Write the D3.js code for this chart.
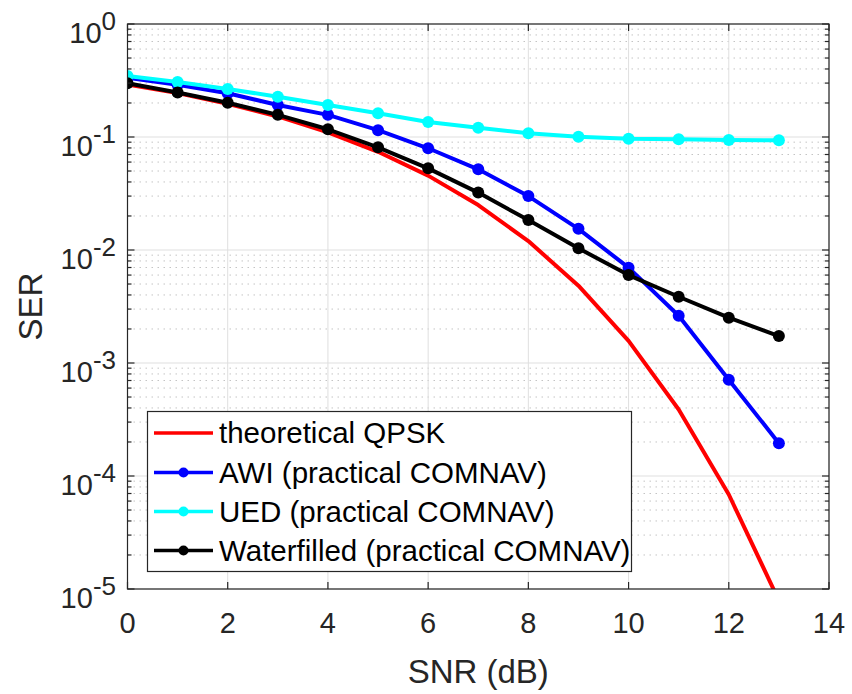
<!DOCTYPE html>
<html>
<head>
<meta charset="utf-8">
<script src="https://cdn.jsdelivr.net/npm/d3@7"></script>
<style>
  html, body { margin: 0; padding: 0; background: #fff; }
  svg { display: block; }
  text { font-family: "Liberation Sans", Arial, Helvetica, sans-serif; fill: #262626; }
</style>
</head>
<body>
<svg id="chart" width="852" height="694"></svg>
<script>
// SNR axis (dB)
const snr = [0, 1, 2, 3, 4, 5, 6, 7, 8, 9, 10, 11, 12, 13];

// Symbol error rate per scheme
const serTheory = [0.292, 0.245, 0.197, 0.152, 0.110, 0.0740, 0.0455, 0.0250, 0.0120, 0.00483, 0.00157, 0.000388, 0.0000686, 0.0000079];
const serAWI = [0.335, 0.290, 0.244, 0.192, 0.157, 0.115, 0.0795, 0.0518, 0.0300, 0.0154, 0.00698, 0.00262, 0.00071, 0.000195];
const serUED = [0.346, 0.307, 0.266, 0.227, 0.192, 0.162, 0.136, 0.121, 0.108, 0.1006, 0.0965, 0.0953, 0.0940, 0.0935];
const serWater = [0.299, 0.248, 0.201, 0.157, 0.117, 0.081, 0.0528, 0.0322, 0.0184, 0.01035, 0.0060, 0.00386, 0.00252, 0.00173];

const seriesNames = ["theoretical QPSK", "AWI (practical COMNAV)", "UED (practical COMNAV)", "Waterfilled (practical COMNAV)"];
const seriesColors = ["#ff0000", "#0000ff", "#00ffff", "#000000"];
const seriesMarkers = [false, true, true, true];

const xTicks = [0, 2, 4, 6, 8, 10, 12, 14];
const yExponents = [0, -1, -2, -3, -4, -5];

const svg = d3.select("#chart");
const pLeft = 127.5, pRight = 829, pTop = 24, pBottom = 589;
const axisColor = "#262626";

const x = d3.scaleLinear().domain([0, 14]).range([pLeft, pRight]);
const y = d3.scaleLog().domain([1e-5, 1]).range([pBottom, pTop]);

const allSeries = [serTheory, serAWI, serUED, serWater].map((vals, i) => ({
  name: seriesNames[i], color: seriesColors[i], marker: seriesMarkers[i],
  points: snr.map((s, j) => ({ s, v: vals[j] }))
}));

// plot background
svg.append("rect").attr("x", pLeft).attr("y", pTop).attr("width", pRight - pLeft).attr("height", pBottom - pTop).attr("fill", "#fff");

// minor horizontal grid (dotted), 2..9 within each decade
const minorVals = [];
for (let e = -5; e < 0; e++) for (let k = 2; k <= 9; k++) minorVals.push(k * Math.pow(10, e));
const grid = svg.append("g");
grid.selectAll("line.minor").data(minorVals).join("line")
  .attr("x1", pLeft).attr("x2", pRight)
  .attr("y1", d => y(d)).attr("y2", d => y(d))
  .attr("stroke", "#c4c4c4").attr("stroke-width", 1).attr("stroke-dasharray", "1.5,4.5");
// major grid
grid.selectAll("line.mx").data(xTicks).join("line")
  .attr("x1", d => x(d)).attr("x2", d => x(d)).attr("y1", pTop).attr("y2", pBottom)
  .attr("stroke", "#dfdfdf").attr("stroke-width", 1);
grid.selectAll("line.my").data(yExponents.map(e => Math.pow(10, e))).join("line")
  .attr("x1", pLeft).attr("x2", pRight).attr("y1", d => y(d)).attr("y2", d => y(d))
  .attr("stroke", "#dfdfdf").attr("stroke-width", 1);

// clip for data
svg.append("clipPath").attr("id", "plotclip").append("rect")
  .attr("x", pLeft).attr("y", pTop).attr("width", pRight - pLeft).attr("height", pBottom - pTop);

const line = d3.line().x(d => x(d.s)).y(d => y(d.v));
const dataG = svg.append("g").attr("clip-path", "url(#plotclip)");
allSeries.forEach(sr => {
  dataG.append("path").datum(sr.points).attr("d", line)
    .attr("fill", "none").attr("stroke", sr.color).attr("stroke-width", 4)
    .attr("stroke-linejoin", "round");
  if (sr.marker) {
    dataG.selectAll(null).data(sr.points).join("circle")
      .attr("cx", d => x(d.s)).attr("cy", d => y(d.v)).attr("r", 6)
      .attr("fill", sr.color);
  }
});

// axes frame with inward ticks
const axG = svg.append("g");
axG.append("rect").attr("x", pLeft).attr("y", pTop).attr("width", pRight - pLeft).attr("height", pBottom - pTop)
  .attr("fill", "none").attr("stroke", axisColor).attr("stroke-width", 1.2);
xTicks.forEach(t => {
  axG.append("line").attr("x1", x(t)).attr("x2", x(t)).attr("y1", pBottom).attr("y2", pBottom - 7).attr("stroke", axisColor).attr("stroke-width", 1.2);
  axG.append("line").attr("x1", x(t)).attr("x2", x(t)).attr("y1", pTop).attr("y2", pTop + 7).attr("stroke", axisColor).attr("stroke-width", 1.2);
});
yExponents.forEach(e => {
  const yy = y(Math.pow(10, e));
  axG.append("line").attr("x1", pLeft).attr("x2", pLeft + 7).attr("y1", yy).attr("y2", yy).attr("stroke", axisColor).attr("stroke-width", 1.2);
  axG.append("line").attr("x1", pRight).attr("x2", pRight - 7).attr("y1", yy).attr("y2", yy).attr("stroke", axisColor).attr("stroke-width", 1.2);
});
minorVals.forEach(v => {
  const yy = y(v);
  axG.append("line").attr("x1", pLeft).attr("x2", pLeft + 4).attr("y1", yy).attr("y2", yy).attr("stroke", axisColor).attr("stroke-width", 1.2);
  axG.append("line").attr("x1", pRight).attr("x2", pRight - 4).attr("y1", yy).attr("y2", yy).attr("stroke", axisColor).attr("stroke-width", 1.2);
});

// tick labels
svg.selectAll("text.xt").data(xTicks).join("text")
  .attr("x", d => x(d)).attr("y", pBottom + 44)
  .attr("text-anchor", "middle").attr("font-size", 29).text(d => d);
yExponents.forEach(e => {
  const t = svg.append("text").attr("x", 116).attr("y", y(Math.pow(10, e)) + 19)
    .attr("text-anchor", "end").attr("font-size", 29);
  t.append("tspan").text("10");
  t.append("tspan").attr("dy", -13).attr("font-size", 26).text(e === 0 ? "0" : "-" + Math.abs(e));
});

// axis labels
svg.append("text").attr("x", (pLeft + pRight) / 2).attr("y", 683)
  .attr("text-anchor", "middle").attr("font-size", 33).text("SNR (dB)");
svg.append("text").attr("transform", "translate(42," + ((pTop + pBottom) / 2) + ") rotate(-90)")
  .attr("text-anchor", "middle").attr("font-size", 33).text("SER");

// legend
const lg = svg.append("g");
lg.append("rect").attr("x", 147.5).attr("y", 411.5).attr("width", 484).attr("height", 160)
  .attr("fill", "#fff").attr("stroke", axisColor).attr("stroke-width", 1.2);
const rowY = [433, 472.5, 511.5, 550.5];
allSeries.forEach((sr, i) => {
  lg.append("line").attr("x1", 154).attr("x2", 213).attr("y1", rowY[i]).attr("y2", rowY[i])
    .attr("stroke", sr.color).attr("stroke-width", 3.5);
  if (sr.marker) lg.append("circle").attr("cx", 183.5).attr("cy", rowY[i]).attr("r", 5).attr("fill", sr.color);
  lg.append("text").attr("x", 219).attr("y", rowY[i] + 10).attr("font-size", 29.5)
    .style("fill", "#000").text(sr.name);
});
</script>
</body>
</html>
